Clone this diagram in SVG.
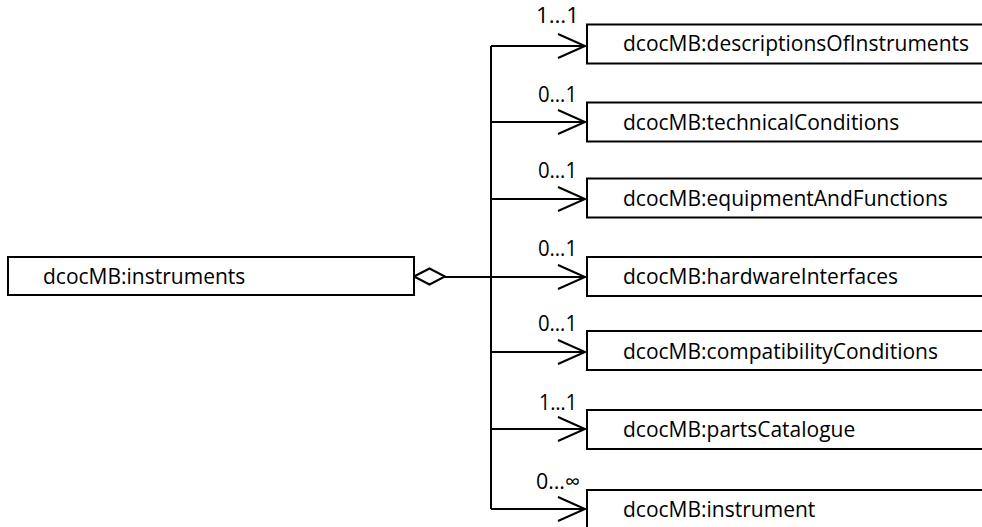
<svg xmlns="http://www.w3.org/2000/svg" width="982" height="527" viewBox="0 0 982 527">
<defs>
<style>
.box{fill:#fff;stroke:#000;stroke-width:2}
.t{font-family:"Open Sans","Noto Sans","Liberation Sans",sans-serif;font-size:21px;fill:#000}
.m{font-family:"Open Sans","Noto Sans","Liberation Sans",sans-serif;font-size:21px;fill:#000}
.c{fill:none;stroke:#000;stroke-width:2}
</style>
<marker id="arr" markerUnits="userSpaceOnUse" markerWidth="32" markerHeight="28" refX="28" refY="13" orient="auto" viewBox="0 0 32 28">
<path d="M1,1 L28,13 L1,25" fill="none" stroke="#000" stroke-width="2"/>
</marker>
</defs>
<rect width="982" height="527" fill="#fff"/>
<g id="connectors">
<polygon class="c" points="414,276.5 429.5,268.5 445,276.5 429.5,284.5" fill="#fff"/>
<path class="c" d="M445,277 H491"/>
<path class="c" d="M491,46 V509"/>
<path class="c" d="M491,46 H585" marker-end="url(#arr)"/>
<path class="c" d="M491,122 H585" marker-end="url(#arr)"/>
<path class="c" d="M491,199 H585" marker-end="url(#arr)"/>
<path class="c" d="M491,277 H585" marker-end="url(#arr)"/>
<path class="c" d="M491,352 H585" marker-end="url(#arr)"/>
<path class="c" d="M491,429 H585" marker-end="url(#arr)"/>
<path class="c" d="M491,509 H585" marker-end="url(#arr)"/>
<text class="m" x="536" y="23" textLength="43" lengthAdjust="spacingAndGlyphs">1…1</text>
<text class="m" x="538" y="102" textLength="39" lengthAdjust="spacingAndGlyphs">0…1</text>
<text class="m" x="538" y="178" textLength="39" lengthAdjust="spacingAndGlyphs">0…1</text>
<text class="m" x="538" y="256" textLength="39" lengthAdjust="spacingAndGlyphs">0…1</text>
<text class="m" x="538" y="331" textLength="39" lengthAdjust="spacingAndGlyphs">0…1</text>
<text class="m" x="539" y="410" textLength="38" lengthAdjust="spacingAndGlyphs">1…1</text>
<text class="m" x="536" y="489" textLength="44" lengthAdjust="spacingAndGlyphs">0…∞</text>
</g>
<g id="instruments">
<rect class="box" x="8" y="257" width="406" height="38"/>
<text class="t" x="43" y="284">dcocMB:instruments</text>
</g>
<g id="descriptionsOfInstruments">
<rect class="box" x="587" y="24.5" width="410" height="39"/>
<text class="t" x="623" y="51">dcocMB:descriptionsOfInstruments</text>
</g>
<g id="technicalConditions">
<rect class="box" x="587" y="102.5" width="410" height="39"/>
<text class="t" x="623" y="130">dcocMB:technicalConditions</text>
</g>
<g id="equipmentAndFunctions">
<rect class="box" x="587" y="178.5" width="410" height="39"/>
<text class="t" x="623" y="206">dcocMB:equipmentAndFunctions</text>
</g>
<g id="hardwareInterfaces">
<rect class="box" x="587" y="257" width="410" height="39"/>
<text class="t" x="623" y="284">dcocMB:hardwareInterfaces</text>
</g>
<g id="compatibilityConditions">
<rect class="box" x="587" y="331" width="410" height="39"/>
<text class="t" x="623" y="359">dcocMB:compatibilityConditions</text>
</g>
<g id="partsCatalogue">
<rect class="box" x="587" y="410" width="410" height="39"/>
<text class="t" x="623" y="437">dcocMB:partsCatalogue</text>
</g>
<g id="instrument">
<rect class="box" x="587" y="490" width="410" height="39"/>
<text class="t" x="623" y="517">dcocMB:instrument</text>
</g>
</svg>
